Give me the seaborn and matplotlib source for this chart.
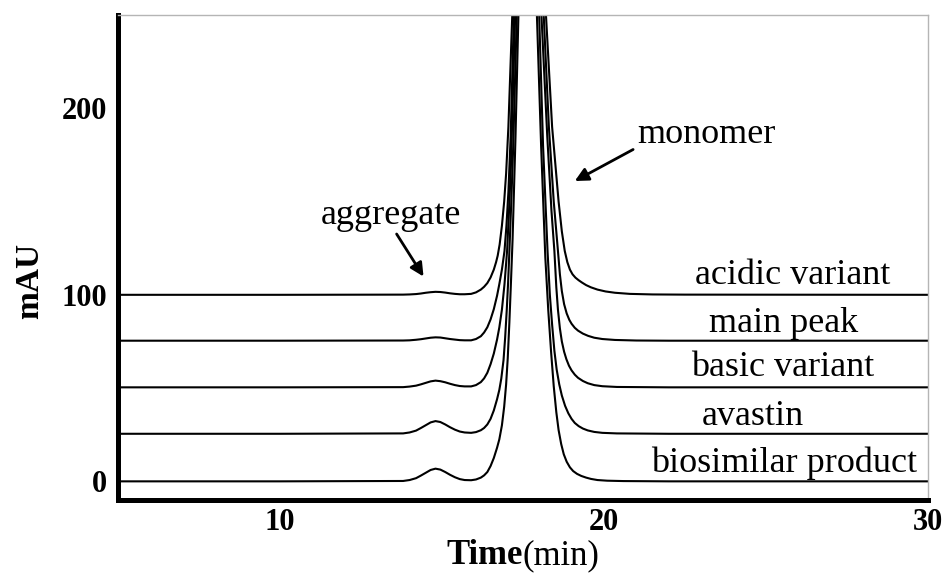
import numpy as np
import pandas as pd
import matplotlib
matplotlib.use("Agg")
import matplotlib.pyplot as plt
from matplotlib.ticker import FixedLocator
import seaborn as sns

# ---------------- data ----------------
samples = ["biosimilar product", "avastin", "basic variant", "main peak", "acidic variant"]

t_base_left = [5, 10, 13.8, 14.0, 14.2, 14.35, 14.5, 14.65, 14.8, 14.95, 15.1, 15.25,
               15.4, 15.55, 15.7, 15.9, 16.05, 16.2, 16.3, 16.4, 16.5, 16.6]

t_biosimilar = t_base_left + [16.7, 16.77, 16.85, 16.92, 16.98, 17.03, 17.08, 17.13, 17.18,
                              17.27, 17.36, 17.65,
                              17.93, 18.06, 18.19, 18.28, 18.37, 18.45, 18.53, 18.6, 18.68,
                              18.76, 18.85, 18.95, 19.05, 19.17, 19.3, 19.45, 19.6, 19.8,
                              20.1, 20.6, 22, 30]
v_biosimilar = [0, 0, 0.2, 0.7, 1.7, 3.1, 4.6, 6.1, 6.8, 6.3, 5.0, 3.5,
                2.2, 1.2, 0.7, 0.6, 1.0, 2.0, 3.2, 5.0, 8.2, 12.5,
                18, 22.5, 30, 40, 52, 66, 85, 107, 130,
                185, 250, 900,
                250, 180, 120, 92, 69, 51, 37, 27.5, 20,
                14.5, 10.5, 7.5, 5.5, 4.0, 2.9, 2.0, 1.3, 0.7,
                0.35, 0.15, 0, 0]

t_avastin = t_base_left + [16.7, 16.77, 16.83, 16.9, 16.95, 17.0, 17.04, 17.08, 17.14,
                           17.2, 17.31, 17.65,
                           18.0, 18.12, 18.26, 18.33, 18.4, 18.47, 18.54, 18.62, 18.7,
                           18.8, 18.9, 19.0, 19.1, 19.22, 19.35, 19.5, 19.7, 19.95,
                           20.4, 22, 30]
v_avastin = [25.5, 25.5, 25.7, 26.2, 27.2, 28.6, 30.1, 31.6, 32.3, 31.8, 30.5, 29.0,
             27.7, 26.7, 26.2, 26.0, 26.4, 27.4, 28.6, 30.5, 33.5, 38,
             44, 49, 55, 65, 77, 92, 106, 123, 150,
             180, 250, 900,
             250, 180, 123, 100, 84, 70, 60, 52, 46,
             40.5, 36.5, 33.5, 31.3, 29.6, 28.3, 27.3, 26.5, 26.0,
             25.7, 25.5, 25.5]

t_basic = t_base_left + [16.7, 16.77, 16.85, 16.93, 17.01, 17.07, 17.13, 17.26, 17.65,
                         18.07, 18.25, 18.38, 18.47, 18.53, 18.58, 18.64, 18.7, 18.77,
                         18.84, 18.92, 19.0, 19.1, 19.2, 19.35, 19.5, 19.7, 19.95,
                         20.4, 22, 30]
v_basic = [50.4, 50.4, 50.5, 50.8, 51.3, 52.0, 52.8, 53.6, 54.0, 53.7, 53.1, 52.3,
           51.6, 51.1, 50.9, 50.9, 51.6, 53.2, 55.2, 58.2, 62.8, 68.5,
           76, 82.5, 92, 105.7, 123.5, 145, 170, 250, 900,
           250, 185, 145, 123.5, 104, 92, 82, 75, 69.5,
           65.5, 62, 59.5, 57.2, 55.5, 53.8, 52.6, 51.6, 51.0,
           50.6, 50.4, 50.4]

t_main = t_base_left + [16.7, 16.77, 16.85, 16.93, 16.99, 17.05, 17.12, 17.22, 17.65,
                        18.14, 18.3, 18.45, 18.58, 18.64, 18.7, 18.77, 18.85, 18.93,
                        19.0, 19.1, 19.2, 19.35, 19.51, 19.7, 19.95, 20.34, 21, 22, 30]
v_main = [75.4, 75.4, 75.5, 75.6, 75.9, 76.2, 76.6, 77.0, 77.2, 77.1, 76.7, 76.3,
          76.0, 75.7, 75.6, 75.6, 76.3, 77.8, 79.8, 82.6, 86.8, 92.3,
          99.5, 105.7, 113.5, 123.5, 137, 155, 185, 250, 900,
          250, 190, 150, 123.5, 111, 102, 95, 90, 86.6,
          84.5, 82.3, 80.8, 79.2, 78.0, 77.0, 76.3, 75.8, 75.5, 75.4, 75.4]

t_acidic = t_base_left + [16.67, 16.72, 16.78, 16.85, 16.92, 16.98, 17.05, 17.17, 17.65,
                          18.21, 18.4, 18.6, 18.7, 18.79, 18.87, 18.95, 19.03, 19.12,
                          19.22, 19.32, 19.45, 19.6, 19.8, 20.05, 20.34, 20.8, 21.5,
                          22.5, 30]
v_acidic = [100, 100, 100.1, 100.2, 100.4, 100.7, 101.1, 101.4, 101.6, 101.5, 101.2, 100.8,
            100.5, 100.3, 100.3, 100.5, 101.3, 102.8, 104.3, 106.3, 109.3, 113.5,
            117.5, 121, 127, 137, 150, 165, 190, 250, 900,
            250, 190, 150, 134, 123.5, 117.5, 113.5, 111, 109.2,
            107.8, 106.6, 105.2, 104, 102.8, 101.8, 101.1, 100.5, 100.2,
            100.1, 100]

x_major = [10, 20, 30]
x_minor = [15, 25]
y_major = [0, 100, 200]
y_minor = [50, 150]

label_pos_t = [25.57, 24.6, 25.51, 25.53, 25.82]
label_pos_v = [5, 30, 56.7, 79.8, 106]

# ---------------- build long-form table ----------------
series_t = [t_biosimilar, t_avastin, t_basic, t_main, t_acidic]
series_v = [v_biosimilar, v_avastin, v_basic, v_main, v_acidic]
frames = []
for name, tt, vv in zip(samples, series_t, series_v):
    frames.append(pd.DataFrame({"time": tt, "mAU": vv, "sample": name}))
df = pd.concat(frames, ignore_index=True)

# ---------------- style ----------------
sns.set_style("white")
plt.rcParams["font.family"] = ["Liberation Serif", "DejaVu Serif"]
plt.rcParams["text.color"] = "black"
plt.rcParams["xtick.color"] = "black"
plt.rcParams["ytick.color"] = "black"
plt.rcParams["axes.labelcolor"] = "black"

fig = plt.figure(figsize=(9.45, 5.73), dpi=100)
ax = fig.add_axes([0.1249, 0.1274, 0.857, 0.8464])

sns.lineplot(data=df, x="time", y="mAU", units="sample", estimator=None,
             color="black", linewidth=1.5, sort=False, legend=False, ax=ax)

ax.set_xlim(5, 30)
ax.set_ylim(-10, 250)

ax.xaxis.set_major_locator(FixedLocator(x_major))
ax.xaxis.set_minor_locator(FixedLocator(x_minor))
ax.yaxis.set_major_locator(FixedLocator(y_major))
ax.yaxis.set_minor_locator(FixedLocator(y_minor))
ax.tick_params(axis="both", which="major", direction="in", length=9, width=3.5,
               color="black", labelcolor="black", labelsize=22, pad=8)
ax.tick_params(axis="x", which="major", pad=6)
ax.tick_params(axis="both", which="minor", direction="in", length=4, width=3.5, color="black")
for lab in ax.get_xticklabels() + ax.get_yticklabels():
    lab.set_fontweight("bold")

for side in ["left", "bottom"]:
    ax.spines[side].set_linewidth(3.6)
    ax.spines[side].set_color("black")
for side in ["top", "right"]:
    ax.spines[side].set_linewidth(1.0)
    ax.spines[side].set_color("#b5b5b5")

ax.set_xlabel("")
ax.set_ylabel("")

# axis titles
fig.text(523 / 945, 0.016, "Time", ha="right", va="baseline", fontweight="bold", fontsize=25)
fig.text(523 / 945, 0.016, "(min)", ha="left", va="baseline", fontsize=25)
fig.text(30 / 945, 1 - 281 / 573, "mAU", rotation=90, ha="center", va="center",
         fontweight="bold", fontsize=24)

# sample labels
for name, tx, vy in zip(samples, label_pos_t, label_pos_v):
    ax.text(tx, vy, name, ha="center", va="baseline", fontsize=26)

# annotations with arrows
ax.text(13.42, 138, "aggregate", ha="center", va="baseline", fontsize=26)
ax.annotate("", xy=(14.43, 109.8), xytext=(13.6, 132.6),
            arrowprops=dict(arrowstyle="-|>", lw=2, color="black", mutation_scale=20,
                            shrinkA=0, shrinkB=0))
ax.text(23.17, 181.5, "monomer", ha="center", va="baseline", fontsize=26)
ax.annotate("", xy=(19.1, 161), xytext=(20.9, 177.9),
            arrowprops=dict(arrowstyle="-|>", lw=2, color="black", mutation_scale=20,
                            shrinkA=0, shrinkB=0))

fig.savefig("out.png", dpi=100)
